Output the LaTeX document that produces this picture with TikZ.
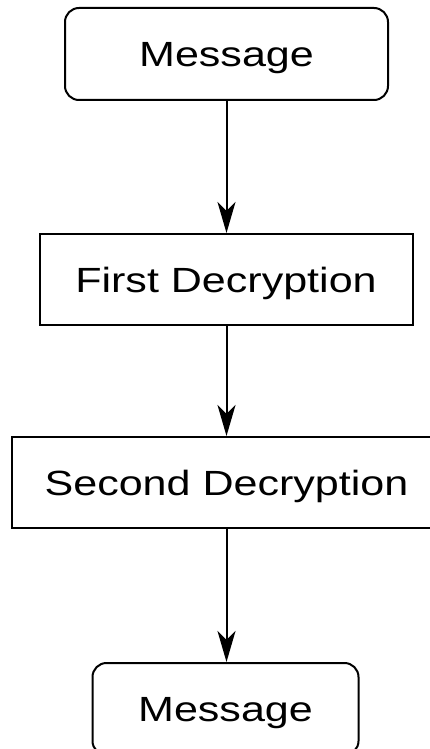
\documentclass[tikz,border=0pt]{standalone}
\usepackage{fontspec}
\setmainfont{Liberation Sans}
\usetikzlibrary{arrows.meta}

\tikzset{
  x=1pt, y=1pt,
  boxbase/.style={draw=black, line width=2pt, fill=white, inner sep=0pt,
    text height=25pt, text depth=0pt,
    font=\fontsize{35pt}{40pt}\selectfont},
  termbox/.style={boxbase, rounded corners=14pt},
  procbox/.style={boxbase},
  flow/.style={draw=black, line width=2pt,
    -{Stealth[length=31pt, width=18pt, inset=9pt]}},
}
\newcommand{\wide}[1]{\scalebox{1.23}[1]{#1}}

\begin{document}
\begin{tikzpicture}
  \useasboundingbox (0,0) rectangle (430,-749);

  \node[termbox, minimum width=323pt, minimum height=92pt] (msgin) at (226.5,-54) {\wide{Message}};
  \node[procbox, minimum width=373pt, minimum height=91pt] (dec1) at (226,-279.5) {\wide{First Decryption}};
  \node[procbox, minimum width=429pt, minimum height=91pt] (dec2) at (226.5,-482.5) {\wide{Second Decryption}};
  \node[termbox, minimum width=266pt, minimum height=92pt] (msgout) at (225.5,-709) {\wide{Message}};

  \draw[flow] (msgin.south -| 226.5,0) -- (dec1.north -| 226.5,0);
  \draw[flow] (dec1.south -| 226.5,0) -- (dec2.north -| 226.5,0);
  \draw[flow] (dec2.south -| 226.5,0) -- (msgout.north -| 226.5,0);
\end{tikzpicture}
\end{document}
